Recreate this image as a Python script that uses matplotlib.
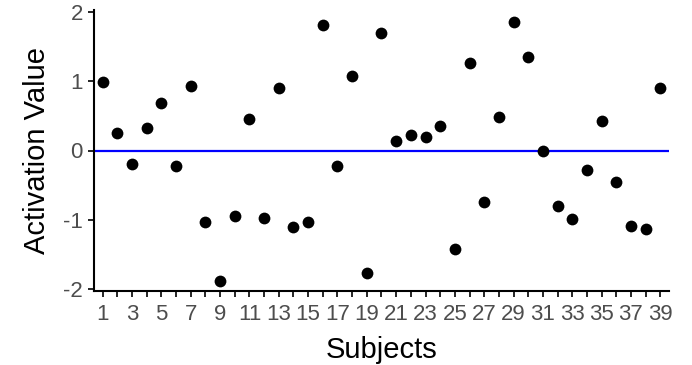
import numpy as np
import matplotlib.pyplot as plt

plt.rcParams["font.family"] = ["Liberation Sans", "DejaVu Sans"]
plt.rcParams["axes.unicode_minus"] = False

subjects = np.arange(1, 40)
activation = [0.99, 0.25, -0.19, 0.32, 0.68, -0.23, 0.93, -1.03, -1.88, -0.94,
              0.45, -0.97, 0.90, -1.10, -1.04, 1.81, -0.23, 1.07, -1.77, 1.70,
              0.14, 0.23, 0.20, 0.35, -1.42, 1.26, -0.74, 0.48, 1.86, 1.35,
              -0.01, -0.80, -0.99, -0.28, 0.43, -0.45, -1.09, -1.13, 0.91]
tick_labels = [str(s) if s % 2 == 1 else "" for s in subjects]

fig = plt.figure(figsize=(6.92, 3.65), dpi=100)
ax = fig.add_axes([94 / 692, 1 - 291 / 365, 575 / 692, 281 / 365])

ax.axhline(0, color="#0000ff", lw=1.6, zorder=1)
ax.scatter(subjects, activation, s=72, color="black", zorder=2, linewidths=0)

ax.set_xlim(0.4, 39.6)
ax.set_ylim(-2.03, 2.03)
ax.set_xticks(subjects)
ax.set_xticklabels(tick_labels)
ax.set_yticks([-2, -1, 0, 1, 2])
ax.tick_params(axis="both", colors="black", width=1.2, length=4,
               labelsize=16, labelcolor="#4d4d4d")
ax.tick_params(axis="x", pad=5)
ax.tick_params(axis="y", pad=4)

ax.set_xlabel("Subjects", fontsize=21, labelpad=8)
ax.set_ylabel("Activation Value", fontsize=21, labelpad=9)

for side in ["top", "right"]:
    ax.spines[side].set_visible(False)
for side in ["left", "bottom"]:
    ax.spines[side].set_linewidth(1.5)

fig.savefig("out.png", dpi=100)
